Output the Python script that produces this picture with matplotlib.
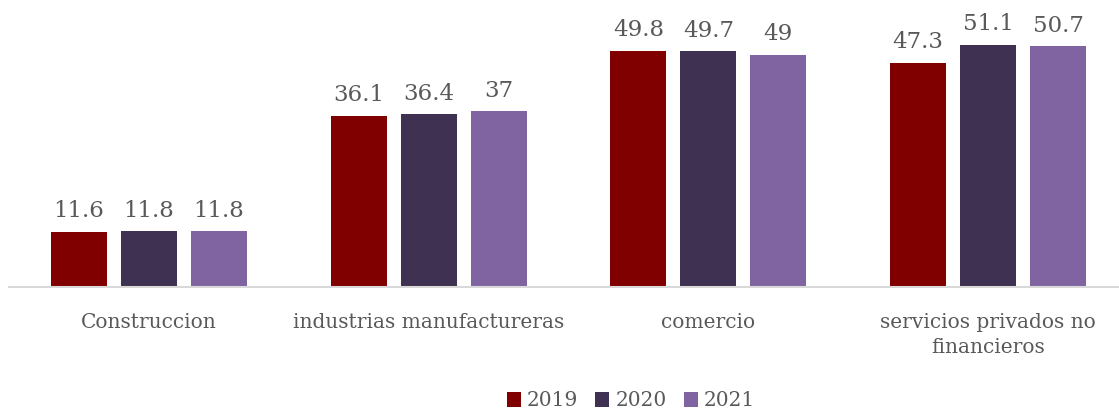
import numpy as np
import matplotlib
matplotlib.use("Agg")
import matplotlib.pyplot as plt

# data
categories = ["Construccion", "industrias manufactureras", "comercio",
              "servicios privados no\nfinancieros"]
years = ["2019", "2020", "2021"]
vals_2019 = [11.6, 36.1, 49.8, 47.3]
vals_2020 = [11.8, 36.4, 49.7, 51.1]
vals_2021 = [11.8, 37.0, 49.0, 50.7]
colors = ["#800000", "#3F3151", "#8064A2"]

plt.rcParams['font.family'] = ['DejaVu Serif']
txt = "#595959"
fs = 14.5

fig = plt.figure(figsize=(11.19, 4.13), dpi=100)
ax = fig.add_axes([9 / 1119, (413 - 287) / 413, 1119 / 1119, 287 / 413])

x = np.arange(len(categories))
w = 0.2
step = 0.25
series = [vals_2019, vals_2020, vals_2021]
for i, (vals, c, yr) in enumerate(zip(series, colors, years)):
    bars = ax.bar(x + (i - 1) * step, vals, width=w, color=c, label=yr)
    for b, v in zip(bars, vals):
        lab = f"{v:g}"
        ax.text(b.get_x() + b.get_width() / 2, v + 2.0, lab, ha="center",
                va="bottom", fontsize=16.5, color=txt)

ax.set_xlim(-0.5, 3.5)
ax.set_ylim(0, 60.5)
ax.set_xticks(x)
ax.set_xticklabels(categories, fontsize=fs, color=txt, linespacing=1.4)
ax.tick_params(axis="x", length=0, pad=19)
ax.set_yticks([])
for s in ["top", "right", "left"]:
    ax.spines[s].set_visible(False)
ax.spines["bottom"].set_color("#d9d9d9")
ax.spines["bottom"].set_linewidth(1.5)

leg = fig.legend(loc="center", bbox_to_anchor=(631 / 1119, 1 - 401 / 413),
                 ncol=3, frameon=False, fontsize=14.5, handlelength=0.7,
                 handleheight=0.7, handletextpad=0.3, columnspacing=0.85)
for t in leg.get_texts():
    t.set_color(txt)

fig.savefig("out.png", dpi=100)
